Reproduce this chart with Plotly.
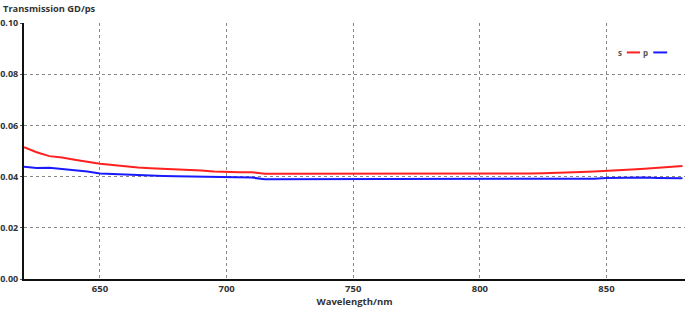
import plotly.graph_objects as go

wavelength = list(range(620, 885, 5))
s_gd = [0.0515, 0.0495, 0.0480, 0.0475, 0.0466, 0.0458, 0.0450, 0.0445, 0.0440, 0.0436,
        0.0433, 0.0431, 0.0428, 0.0426, 0.0424, 0.0420, 0.0418, 0.0417, 0.0417, 0.0411,
        0.0411, 0.0411, 0.0410, 0.0410, 0.0411, 0.0411, 0.0411, 0.0411, 0.0410, 0.0411,
        0.0411, 0.0411, 0.0411, 0.0412, 0.0412, 0.0412, 0.0411, 0.0410, 0.0410, 0.0411,
        0.0412, 0.0413, 0.0414, 0.0416, 0.0418, 0.0420, 0.0422, 0.0424, 0.0428, 0.0431,
        0.0434, 0.0437, 0.0441]
p_gd = [0.0438, 0.0434, 0.0435, 0.0430, 0.0424, 0.0420, 0.0412, 0.0410, 0.0408, 0.0404,
        0.0402, 0.0402, 0.0401, 0.0400, 0.0399, 0.0398, 0.0396, 0.0396, 0.0396, 0.0390,
        0.0390, 0.0390, 0.0390, 0.0390, 0.0390, 0.0390, 0.0390, 0.0390, 0.0390, 0.0390,
        0.0390, 0.0390, 0.0390, 0.0390, 0.0390, 0.0390, 0.0390, 0.0390, 0.0390, 0.0390,
        0.0390, 0.0390, 0.0390, 0.0390, 0.0390, 0.0392, 0.0395, 0.0396, 0.0396, 0.0396,
        0.0395, 0.0394, 0.0394]
x_ticks = [650, 700, 750, 800, 850]
y_ticks = [0.00, 0.02, 0.04, 0.06, 0.08, 0.10]
series_names = ["s", "p"]
series_colors = ["#ff2020", "#1a1aff"]

font_family = "Open Sans, DejaVu Sans, sans-serif"

fig = go.Figure()
for name, vals, col in zip(series_names, [s_gd, p_gd], series_colors):
    fig.add_trace(go.Scatter(x=wavelength, y=vals, mode="lines", name=name,
                             line=dict(color=col, width=2), showlegend=False))

fig.update_layout(
    width=685, height=311,
    margin=dict(l=24, r=0, t=23, b=32),
    plot_bgcolor="white", paper_bgcolor="white",
    font=dict(family=font_family, size=10, color="#333333"),
    xaxis=dict(range=[620, 881], tickvals=x_ticks, ticktext=[str(v) for v in x_ticks],
               automargin=False,
               showgrid=True, gridcolor="#888888", griddash="dot", gridwidth=1,
               showline=True, linecolor="#111111", linewidth=2, zeroline=False,
               ticks="", tickfont=dict(size=9.5, family=font_family, weight="bold", color="#333333"),
               title=dict(text="Wavelength/nm", standoff=2,
                          font=dict(size=9.5, family=font_family, weight="bold", color="#333333"))),
    yaxis=dict(range=[0, 0.1], tickvals=y_ticks, ticktext=["%.2f" % v for v in y_ticks],
               automargin=False,
               showgrid=True, gridcolor="#888888", griddash="dot", gridwidth=1,
               showline=True, linecolor="#111111", linewidth=2, zeroline=False,
               ticks="outside", ticklen=2, tickcolor="#555555", ticklabelstandoff=0,
               tickfont=dict(size=9, family=font_family, weight="bold", color="#333333")),
    annotations=[
        dict(text="Transmission GD/ps", x=0, y=1, xref="paper", yref="paper", xanchor="left", yanchor="bottom",
             xshift=-23, yshift=6, showarrow=False,
             font=dict(size=9.3, family=font_family, weight="bold", color="#333333")),
        dict(text="s", x=0.901, y=0.885, xref="paper", yref="paper", xanchor="center", yanchor="middle",
             showarrow=False, font=dict(size=8, family=font_family, weight="bold", color="#555555")),
        dict(text="p", x=0.940, y=0.885, xref="paper", yref="paper", xanchor="center", yanchor="middle",
             showarrow=False, font=dict(size=8, family=font_family, weight="bold", color="#555555")),
    ],
    shapes=[
        dict(type="line", xref="paper", yref="paper", x0=0.912, x1=0.932, y0=0.885, y1=0.885,
             line=dict(color=series_colors[0], width=2)),
        dict(type="line", xref="paper", yref="paper", x0=0.952, x1=0.973, y0=0.885, y1=0.885,
             line=dict(color=series_colors[1], width=2)),
    ],
)

fig.write_html("out.html", config={"displayModeBar": False},
               post_script="document.body.style.margin='0';document.body.style.overflow='hidden';")
